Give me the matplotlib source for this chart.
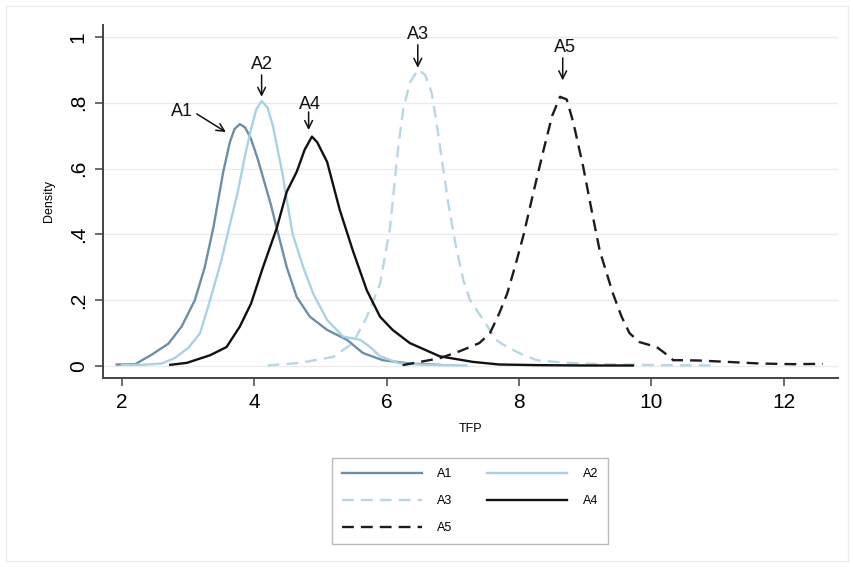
import matplotlib
matplotlib.use("Agg")
import matplotlib.pyplot as plt
from matplotlib.patches import Rectangle

plt.rcParams['font.family'] = ['Liberation Sans', 'DejaVu Sans']

# ---- data ----
a1_x = [1.92, 2.2, 2.45, 2.7, 2.9, 3.1, 3.25, 3.38, 3.53, 3.63, 3.7, 3.78, 3.86, 3.95, 4.05,
        4.15, 4.25, 4.35, 4.49, 4.64, 4.84, 5.1, 5.4, 5.64, 5.94, 6.35, 6.8]
a1_y = [0.005, 0.006, 0.035, 0.068, 0.12, 0.2, 0.3, 0.42, 0.59, 0.68, 0.72, 0.735, 0.725, 0.69, 0.63,
        0.56, 0.49, 0.41, 0.3, 0.21, 0.15, 0.11, 0.08, 0.04, 0.018, 0.008, 0.004]

a2_x = [2.0, 2.3, 2.6, 2.8, 3.0, 3.18, 3.33, 3.5, 3.63, 3.75, 3.86, 3.95, 4.03, 4.11, 4.2, 4.28,
        4.36, 4.43, 4.49, 4.58, 4.74, 4.89, 5.1, 5.34, 5.6, 5.75, 5.9, 6.2, 6.6, 7.2]
a2_y = [0.004, 0.004, 0.008, 0.025, 0.055, 0.1, 0.2, 0.32, 0.43, 0.53, 0.64, 0.72, 0.78, 0.805, 0.785, 0.73,
        0.65, 0.58, 0.505, 0.4, 0.3, 0.22, 0.14, 0.09, 0.08, 0.058, 0.03, 0.008, 0.004, 0.002]

a3_x = [4.2, 4.69, 5.19, 5.49, 5.7, 5.9, 6.05, 6.17, 6.25, 6.35, 6.47, 6.58, 6.68, 6.76, 6.85, 6.95,
        7.06, 7.16, 7.26, 7.46, 7.65, 7.82, 8.05, 8.27, 8.6, 8.92, 9.5, 10.2, 11.0]
a3_y = [0.002, 0.01, 0.028, 0.07, 0.15, 0.25, 0.42, 0.657, 0.78, 0.86, 0.9, 0.885, 0.83, 0.73, 0.605, 0.47,
        0.35, 0.26, 0.2, 0.14, 0.08, 0.058, 0.035, 0.018, 0.012, 0.008, 0.005, 0.003, 0.002]

a4_x = [2.73, 2.98, 3.33, 3.58, 3.78, 3.95, 4.13, 4.34, 4.49, 4.64, 4.76, 4.87, 4.95, 5.1, 5.29, 5.49,
        5.7, 5.9, 6.09, 6.35, 6.8, 7.3, 7.7, 8.3, 9.0, 9.72]
a4_y = [0.004, 0.01, 0.033, 0.058, 0.12, 0.19, 0.3, 0.42, 0.53, 0.59, 0.657, 0.697, 0.68, 0.62, 0.475, 0.35,
        0.23, 0.15, 0.11, 0.07, 0.03, 0.013, 0.005, 0.003, 0.002, 0.002]

a5_x = [6.24, 6.8, 7.1, 7.4, 7.56, 7.7, 7.82, 7.95, 8.07, 8.22, 8.37, 8.5, 8.62, 8.72, 8.82, 8.97, 9.1,
        9.22, 9.42, 9.55, 9.67, 9.82, 10.08, 10.2, 10.33, 10.5, 10.73, 11.14, 11.64, 12.14, 12.59]
a5_y = [0.003, 0.024, 0.045, 0.07, 0.1, 0.16, 0.22, 0.31, 0.4, 0.53, 0.656, 0.76, 0.818, 0.81, 0.74, 0.605, 0.47,
        0.35, 0.22, 0.15, 0.1, 0.073, 0.058, 0.04, 0.018, 0.018, 0.017, 0.013, 0.008, 0.006, 0.007]

labels = ["A1", "A2", "A3", "A4", "A5"]
x_ticks = [2, 4, 6, 8, 10, 12]
y_ticks = [0, 0.2, 0.4, 0.6, 0.8, 1.0]
y_ticklabels = ["0", ".2", ".4", ".6", ".8", "1"]

# annotation: label, text position, arrow start, arrow end
ann = [
    ("A1", (2.91, 0.772), (3.13, 0.766), (3.57, 0.711)),
    ("A2", (4.11, 0.915), (4.11, 0.884), (4.11, 0.818)),
    ("A4", (4.84, 0.795), (4.82, 0.772), (4.82, 0.717)),
    ("A3", (6.47, 1.006), (6.47, 0.976), (6.47, 0.906)),
    ("A5", (8.70, 0.967), (8.66, 0.936), (8.66, 0.868)),
]

fig = plt.figure(figsize=(8.54, 5.67), dpi=100)
ax = fig.add_axes([103/854, 1-378/567, (838-103)/854, (378-25)/567])

c1 = "#6f8ea3"
c2 = "#a9d2e2"
c3 = "#b8d6e3"
c4 = "#111111"
c5 = "#1c1c1c"

l1, = ax.plot(a1_x, a1_y, color=c1, lw=1.7, label=labels[0])
l2, = ax.plot(a2_x, a2_y, color=c2, lw=1.7, label=labels[1])
l3, = ax.plot(a3_x, a3_y, color=c3, lw=1.7, ls=(0, (5, 3)), label=labels[2])
l4, = ax.plot(a4_x, a4_y, color=c4, lw=1.7, label=labels[3])
l5, = ax.plot(a5_x, a5_y, color=c5, lw=1.7, ls=(0, (5, 3)), label=labels[4])

for lab, tpos, s, e in ann:
    ax.text(tpos[0], tpos[1], lab, fontsize=13, ha="center", va="center", color="#111111")
    ax.annotate("", xy=e, xytext=s,
                arrowprops=dict(arrowstyle="->", color="#111111", lw=1.1,
                                shrinkA=0, shrinkB=0, mutation_scale=14))

ax.set_xlim(1.713, 12.82)
ax.set_ylim(-0.036, 1.036)
ax.set_xticks(x_ticks)
ax.set_xticklabels([str(v) for v in x_ticks], fontsize=15)
ax.set_yticks(y_ticks)
ax.set_yticklabels(y_ticklabels, fontsize=15, rotation=90, va="center")
ax.yaxis.grid(True, color="#ebebeb", lw=1.0)
ax.set_axisbelow(True)
ax.tick_params(axis="both", direction="out", length=6, width=1.1, color="#444444", pad=5)

for sp in ["top", "right"]:
    ax.spines[sp].set_visible(False)
for sp in ["left", "bottom"]:
    ax.spines[sp].set_color("#444444")
    ax.spines[sp].set_linewidth(1.4)

ax.set_xlabel("TFP", fontsize=9, labelpad=8)
ax.set_ylabel("Density", fontsize=9, labelpad=10)

handles = [l1, l3, l5, l2, l4]
leg = fig.legend(handles, [h.get_label() for h in handles], ncol=2,
                 loc="upper center", bbox_to_anchor=(470/854, 1-452/567),
                 fontsize=9, frameon=True, fancybox=False, handlelength=6.4,
                 handletextpad=1.2, columnspacing=2.8, labelspacing=1.2,
                 borderpad=0.8)
leg.get_frame().set_edgecolor("#aaaaaa")
leg.get_frame().set_linewidth(1.0)

fig.patches.append(Rectangle((6/854, 6/567), 842/854, 555/567, transform=fig.transFigure,
                             fill=False, edgecolor="#ececec", lw=1.0))

fig.savefig("out.png", dpi=100)
